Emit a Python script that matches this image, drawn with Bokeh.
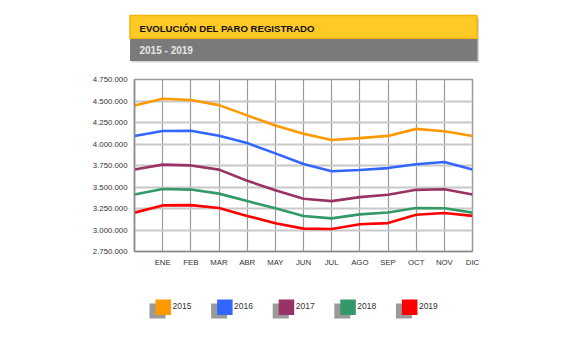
from bokeh.plotting import figure
from bokeh.layouts import column, row
from bokeh.models import Range1d, FixedTicker
from bokeh.core.properties import value
from bokeh.embed import file_html
from bokeh.resources import INLINE

# ---------------- data ----------------
months = ["", "ENE", "FEB", "MAR", "ABR", "MAY", "JUN", "JUL", "AGO", "SEP", "OCT", "NOV", "DIC"]
years = ["2015", "2016", "2017", "2018", "2019"]
colors = ["#ff9900", "#3366ff", "#993366", "#339966", "#ff0000"]

paro_2015 = [4448000, 4526000, 4512000, 4452000, 4333000, 4215000, 4120000, 4046000, 4068000, 4094000, 4176000, 4149000, 4094000]
paro_2016 = [4094000, 4151000, 4153000, 4095000, 4011000, 3891000, 3767000, 3683000, 3697000, 3720000, 3765000, 3790000, 3703000]
paro_2017 = [3703000, 3760000, 3751000, 3702000, 3573000, 3461000, 3363000, 3336000, 3382000, 3410000, 3467000, 3474000, 3413000]
paro_2018 = [3413000, 3477000, 3470000, 3423000, 3336000, 3252000, 3162000, 3135000, 3182000, 3203000, 3255000, 3253000, 3202000]
paro_2019 = [3202000, 3286000, 3289000, 3255000, 3164000, 3079000, 3016000, 3011000, 3066000, 3080000, 3178000, 3198000, 3164000]
series = [paro_2015, paro_2016, paro_2017, paro_2018, paro_2019]

y_ticks = [2750000, 3000000, 3250000, 3500000, 3750000, 4000000, 4250000, 4500000, 4750000]

title_text = "EVOLUCIÓN DEL PARO REGISTRADO"
subtitle_text = "2015 - 2019"

NARROW = "Liberation Sans Narrow, Arial Narrow, Liberation Sans, sans-serif"
W = 580


def blank(h):
    f = figure(width=W, height=h, output_backend="svg", toolbar_location=None,
               x_range=Range1d(0, W), y_range=Range1d(h, 0),
               min_border=0, min_border_left=0, min_border_right=0,
               min_border_top=0, min_border_bottom=0)
    f.axis.visible = False
    f.grid.visible = False
    f.outline_line_color = None
    f.background_fill_color = "white"
    f.border_fill_color = "white"
    return f


# ---------------- header ----------------
H1 = 70
hdr = blank(H1)
hdr.quad(left=[131], right=[478.5], top=[17], bottom=[62], fill_color="#d4d4d4", line_color=None)
hdr.quad(left=[129.5], right=[476.5], top=[15], bottom=[38], fill_color="#ffc926", line_color="#f5b400", line_width=1.5)
hdr.quad(left=[129.5], right=[477], top=[38.5], bottom=[60.5], fill_color="#7a7a7a", line_color=None)
hdr.text(x=[139], y=[27.5], text=[title_text], text_font=value(NARROW), text_font_style="bold",
         text_font_size="9.6px", text_color="#111111", text_baseline="middle", text_align="left")
hdr.text(x=[139], y=[50], text=[subtitle_text], text_font=value("Liberation Sans"), text_font_style="bold",
         text_font_size="10px", text_color="#e6e6e6", text_baseline="middle", text_align="left")

# ---------------- main chart ----------------
H2 = 210
p = figure(width=W, height=H2, output_backend="svg", toolbar_location=None,
           x_range=Range1d(0, len(months) - 1), y_range=Range1d(y_ticks[0], y_ticks[-1]),
           min_border_left=134, min_border_right=W - 472, min_border_top=9, min_border_bottom=29)
p.background_fill_color = "white"
p.border_fill_color = "white"
p.outline_line_color = "#9a9a9a"
p.outline_line_width = 1.5

xs = list(range(len(months)))
for vals, col in zip(series, colors):
    p.line(xs, vals, line_color=col, line_width=2.6, line_join="round")

p.xaxis.ticker = FixedTicker(ticks=xs[1:])
p.xaxis.major_label_overrides = {i: m for i, m in enumerate(months) if m}
p.yaxis.ticker = FixedTicker(ticks=y_ticks)
p.yaxis.major_label_overrides = {t: f"{t:,}".replace(",", ".") for t in y_ticks}

for ax in (p.xaxis, p.yaxis):
    ax.major_tick_line_color = None
    ax.minor_tick_line_color = None
    ax.major_tick_out = 0
    ax.major_tick_in = 0
    ax.minor_tick_out = 0
    ax.minor_tick_in = 0
    ax.axis_line_color = "#8a8a8a"
    ax.axis_line_width = 1.5
    ax.major_label_text_font = NARROW
    ax.major_label_text_font_size = "7.8px"
    ax.major_label_text_color = "#333333"
p.xaxis.major_label_standoff = 6
p.yaxis.major_label_standoff = 7

p.xgrid.ticker = FixedTicker(ticks=xs)
p.xgrid.grid_line_color = "#9a9a9a"
p.xgrid.grid_line_width = 1.2
p.ygrid.grid_line_color = "#c8c8c8"
p.ygrid.grid_line_width = 2

# ---------------- legend ----------------
H3 = 341 - H1 - H2
leg = blank(H3)
step = 61.6
for i, (yr, col) in enumerate(zip(years, colors)):
    x0 = 155 + i * step
    leg.quad(left=[x0 - 6], right=[x0 + 10], top=[23], bottom=[38], fill_color="#9a9a9a", line_color=None)
    leg.quad(left=[x0], right=[x0 + 15.5], top=[19], bottom=[34.5], fill_color=col, line_color=None)
    leg.text(x=[x0 + 17], y=[25.5], text=[yr], text_font=value(NARROW), text_font_size="8.5px",
             text_color="#333333", text_baseline="middle", text_align="left")

layout = column(row(hdr), row(p), row(leg), spacing=0)
open("out.html", "w").write(file_html(layout, INLINE))
